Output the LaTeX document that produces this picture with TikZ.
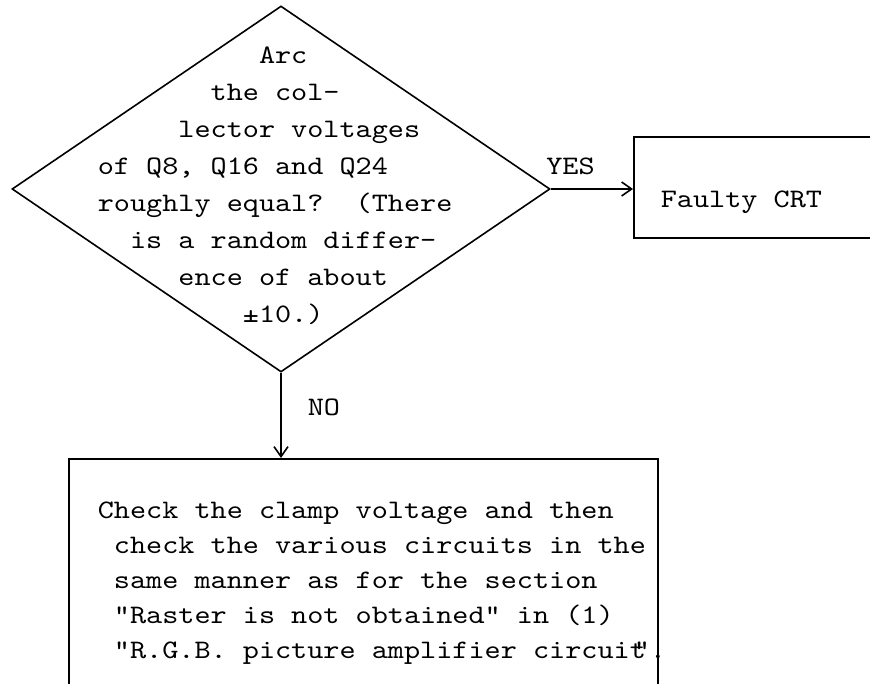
\documentclass[tikz,border=0pt]{standalone}
\usepackage{fontspec}
\usetikzlibrary{shapes,arrows.meta,positioning,calc}
\newfontfamily\tw[Extension=.otf,FakeStretch=1.15]{lmmono10-regular}
\newcommand{\ind}[1]{\hspace*{#1\dimexpr0.60375em\relax}}
\tikzset{
  decision/.style={diamond,draw,minimum width=538pt,minimum height=366pt,inner sep=0pt},
  box/.style={rectangle,draw,inner sep=0pt},
  txt/.style={font=\tw\fontsize{26.7}{37}\selectfont,inner sep=0pt,align=left}
}
\begin{document}
\begin{tikzpicture}[x=1pt,y=-1pt,line width=1.6pt,
  >={Straight Barb[length=10pt,width=14pt]}]

  \useasboundingbox (0,0) rectangle (870,684);

  \node [decision] (dia) at (281,189) {};
  \node [txt,anchor=north west] (qtext) at (97,46)
    {\ind{10}Arc\\
     \ind{7}the col-\\
     \ind{5}lector voltages\\
     of Q8, Q16 and Q24\\
     roughly equal?\ind{2}(There\\
     \ind{2}is a random differ-\\
     \ind{5}ence of about\\
     \ind{9}±10.)};

  \node [box,minimum width=300pt,minimum height=101pt,anchor=north west] (crt) at (633,136) {};
  \node [txt,anchor=base west] (crttext) at (660,208) {Faulty CRT};

  \node [box,minimum width=589pt,minimum height=300pt,anchor=north west] (chk) at (68,458) {};
  \node [txt,anchor=north west,font=\tw\fontsize{26.7}{35}\selectfont] (chktext) at (97,501)
    {Check the clamp voltage and then\\
     \ind{1}check the various circuits in the\\
     \ind{1}same manner as for the section\\
     \ind{1}"Raster is not obtained" in (1)\\
     \ind{1}"R.G.B. picture amplifier circuit\ind{-0.75}".};

  \draw [->] (dia.east) -- node [txt,above=13pt,pos=0.24] {YES} (dia.east -| crt.west);
  \draw [->] (dia.south) -- node [txt,right=26pt,pos=0.41] {NO} (dia.south |- chk.north);

\end{tikzpicture}
\end{document}
